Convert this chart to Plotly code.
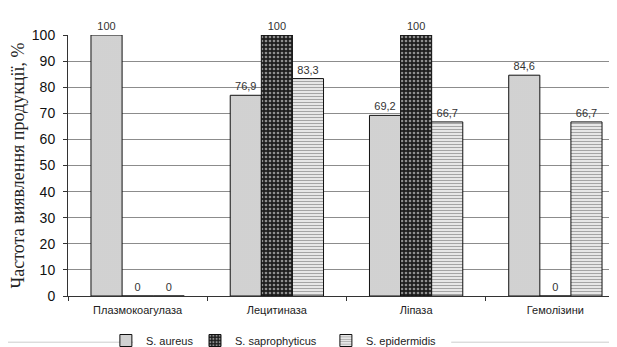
import plotly.graph_objects as go

categories = ["Плазмокоагулаза", "Лецитиназа", "Ліпаза", "Гемолізини"]
series_names = ["S. aureus", "S. saprophyticus", "S. epidermidis"]
aureus = [100, 76.9, 69.2, 84.6]
saprophyticus = [0, 100, 100, 0]
epidermidis = [0, 83.3, 66.7, 66.7]
y_ticks = [0, 10, 20, 30, 40, 50, 60, 70, 80, 90, 100]

def fmt(v):
    return f"{v:g}".replace(".", ",")

patterns = [
    dict(shape=".", bgcolor="#dedede", fgcolor="#9a9a9a", size=2, solidity=0.4),
    dict(shape=".", bgcolor="#1e1e1e", fgcolor="#ffffff", size=4, solidity=0.35),
    dict(shape="-", bgcolor="#f4f4f4", fgcolor="#555555", size=3, solidity=0.45),
]
legend_ids = ["legend", "legend2", "legend3"]
legend_x = [0.068, 0.228, 0.463]

fig = go.Figure()
for name, vals, pat, lid in zip(series_names, [aureus, saprophyticus, epidermidis], patterns, legend_ids):
    fig.add_trace(go.Bar(
        name=name, x=categories, y=vals, legend=lid,
        text=[fmt(v) for v in vals], textposition="outside",
        textfont=dict(family="Liberation Sans, Arial", size=11, color="#333333"),
        marker=dict(color=pat["bgcolor"], pattern=pat, line=dict(color="#111111", width=1)),
        cliponaxis=False,
    ))

leg_common = dict(orientation="h", xanchor="left", y=-0.172, yanchor="middle",
                  font=dict(size=11, color="#222222"), itemwidth=30,
                  bgcolor="rgba(0,0,0,0)")
fig.update_layout(
    width=617, height=347,
    margin=dict(l=60, r=0, t=27, b=53),
    barmode="group", bargap=0.33, bargroupgap=0,
    plot_bgcolor="white", paper_bgcolor="white",
    font=dict(family="Liberation Sans, Arial", color="#222222"),
    legend=dict(x=legend_x[0], **leg_common),
    legend2=dict(x=legend_x[1], **leg_common),
    legend3=dict(x=legend_x[2], **leg_common),
    showlegend=True,
    shapes=[
        dict(type="line", xref="paper", yref="paper", x0=-0.108, x1=0.117, y0=-0.177, y1=-0.177,
             line=dict(color="#cccccc", width=1)),
        dict(type="line", xref="paper", yref="paper", x0=0.688, x1=0.987, y0=-0.177, y1=-0.177,
             line=dict(color="#cccccc", width=1)),
    ],
)
fig.update_yaxes(
    range=[0, 100], tickvals=y_ticks, ticks="outside", ticklen=4, tickcolor="#333",
    showline=True, linecolor="#333", linewidth=1,
    gridcolor="#8c8c8c", gridwidth=1,
    tickfont=dict(size=14, color="#111"), ticklabelstandoff=5,
    title=dict(text="Частота виявлення продукції, %", standoff=4,
               font=dict(family="Liberation Serif, Times New Roman", size=18, color="#222")),
)
fig.update_xaxes(
    showline=True, linecolor="#333", linewidth=1,
    ticks="outside", tickson="boundaries", ticklen=4, tickcolor="#333",
    tickfont=dict(size=11, color="#222"), ticklabelstandoff=4,
)
fig.write_html("out.html")
